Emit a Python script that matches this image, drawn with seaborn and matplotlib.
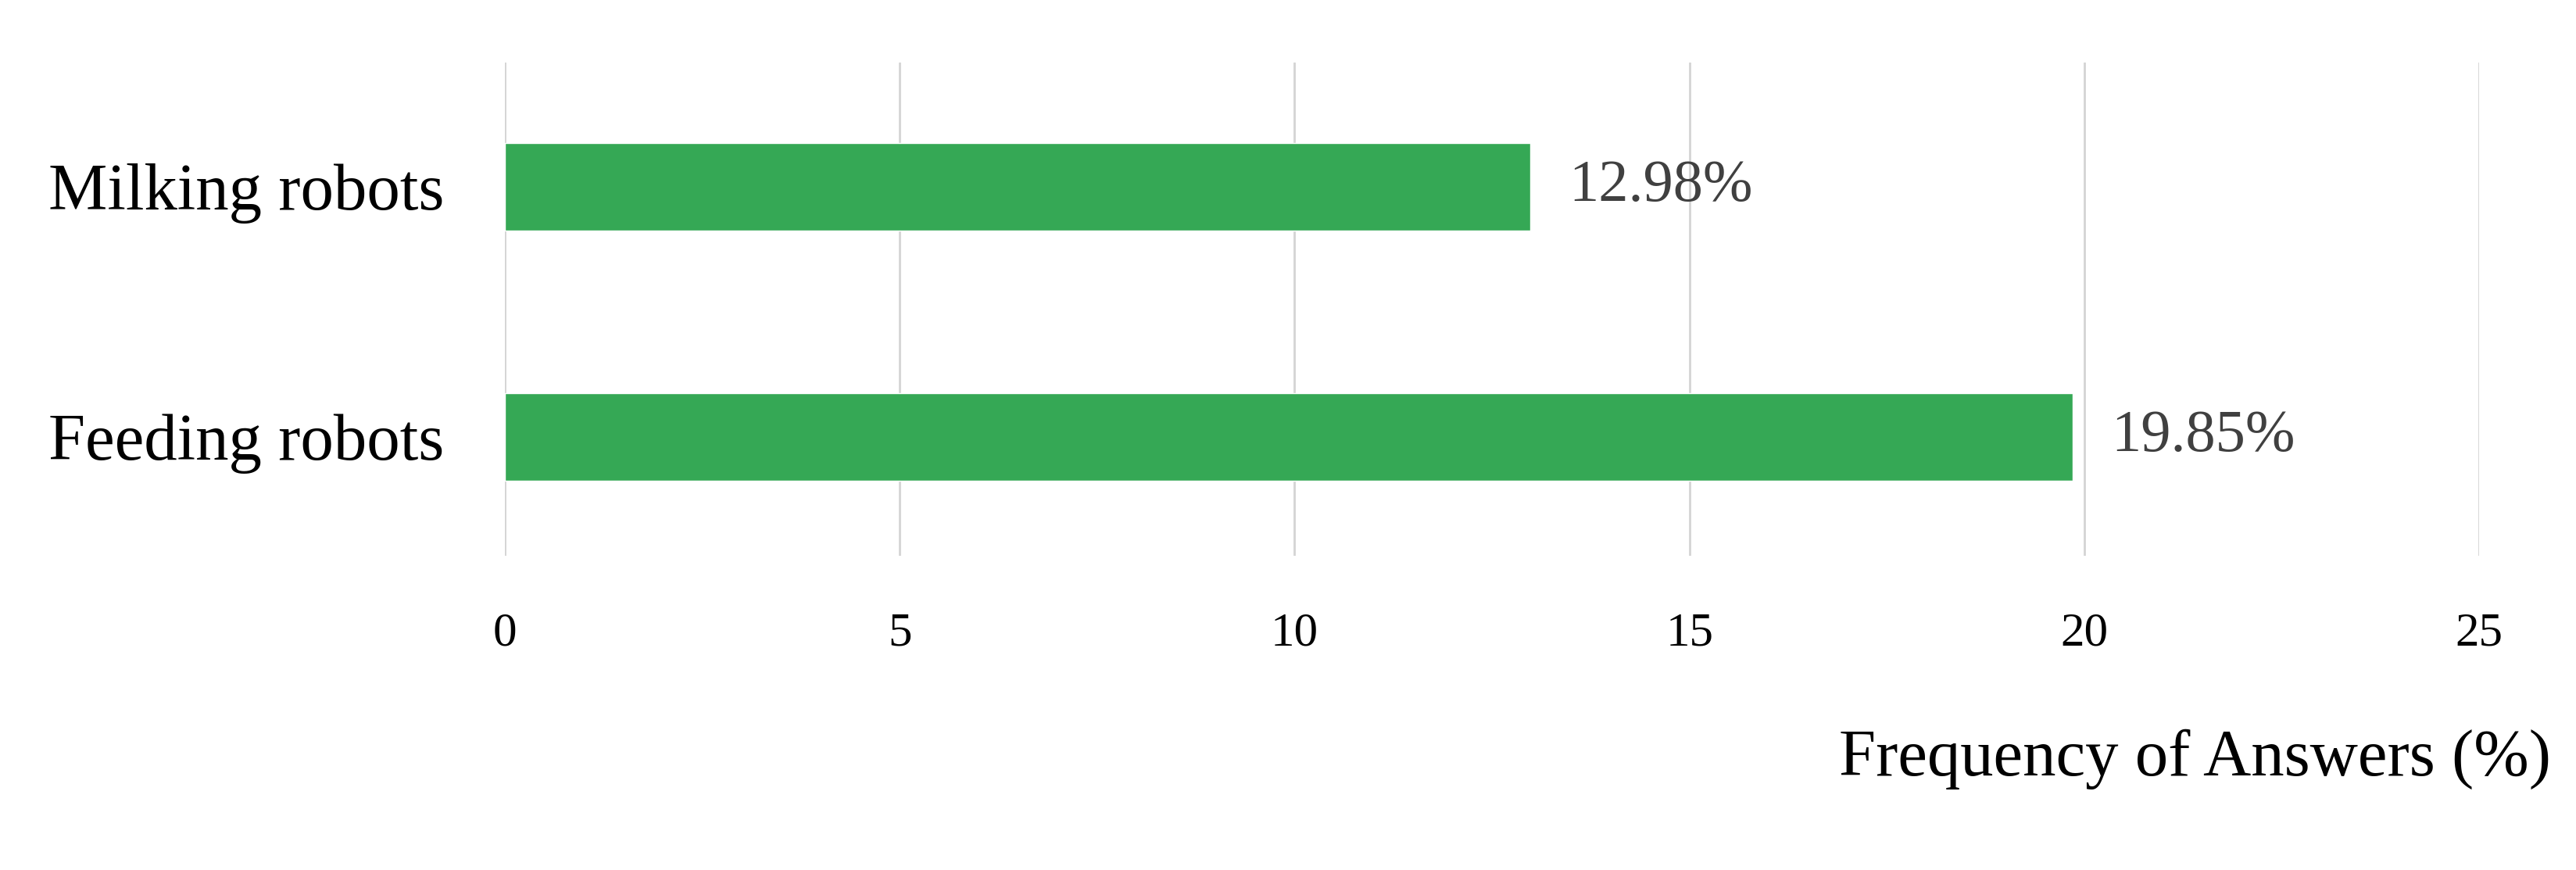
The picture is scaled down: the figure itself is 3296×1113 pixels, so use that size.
import matplotlib
matplotlib.use("Agg")
import matplotlib.pyplot as plt
import seaborn as sns

# data
categories = ["Milking robots", "Feeding robots"]
values = [12.98, 19.85]
x_ticks = [0, 5, 10, 15, 20, 25]
value_labels = ["12.98%", "19.85%"]

sns.set_style("white")
plt.rcParams["font.family"] = ["Liberation Serif", "DejaVu Serif"]

fig = plt.figure(figsize=(32.96, 11.13), dpi=100)
ax = fig.add_axes([0.196, 0.361, 0.7664, 0.567])

sns.barplot(x=values, y=categories, orient="h", color="#35A855",
            saturation=1, width=0.35, ax=ax, zorder=3)

ax.set_xlim(0, 25)
ax.set_ylim(1.477, -0.495)
ax.set_xticks(x_ticks)
ax.grid(axis="x", color="#d4d4d4", linewidth=2, zorder=0)
ax.grid(axis="y", visible=False)
for s in ax.spines.values():
    s.set_visible(False)

ax.tick_params(axis="x", length=0, pad=52, labelsize=44, labelcolor="black")
ax.tick_params(axis="y", length=0, pad=56, labelsize=61, labelcolor="black")

ax.bar_label(ax.containers[0], labels=value_labels, padding=36,
             fontsize=55, color="#404040")

ax.set_ylabel("")
ax.set_xlabel("Frequency of Answers (%)", fontsize=61, color="black",
              ha="right", va="center")
ax.xaxis.set_label_coords(1.0364, -0.412)

# faint leftover tick marks along the bottom edge
ax2 = fig.add_axes([0.4484, 0.018, 0.4563, 0.001])
ax2.set_xlim(0, 4)
ax2.set_xticks(range(5))
ax2.set_yticks([])
ax2.tick_params(axis="x", length=7, width=1.2, color="#d9d9d9", labelbottom=False)
for s in ax2.spines.values():
    s.set_visible(False)
ax2.patch.set_visible(False)

fig.savefig("out.png", dpi=100)
